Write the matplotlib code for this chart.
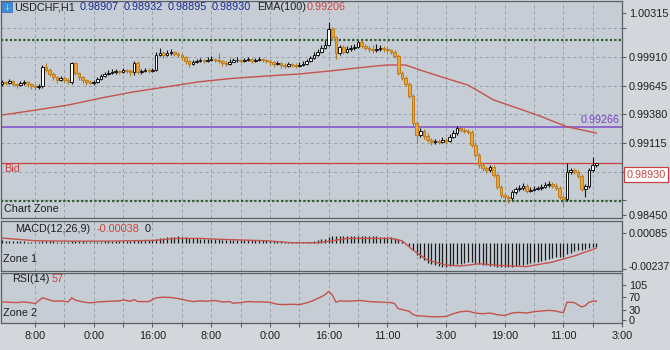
import numpy as np
import matplotlib.pyplot as plt
from matplotlib.patches import Rectangle

# ---- price data (H1 bars, USDCHF) ----
first_open = 0.99659
closes = [0.99678, 0.99669, 0.99687, 0.99659, 0.99650, 0.99669, 0.99678, 0.99659, 0.99641, 0.99632,
          0.99641, 0.99816, 0.99788, 0.99752, 0.99724, 0.99696, 0.99715, 0.99696, 0.99678, 0.99853,
          0.99761, 0.99724, 0.99696, 0.99678, 0.99669, 0.99678, 0.99705, 0.99733, 0.99752, 0.99761,
          0.99770, 0.99779, 0.99770, 0.99788, 0.99779, 0.99770, 0.99853, 0.99770, 0.99779, 0.99788,
          0.99779, 0.99788, 0.99927, 0.99945, 0.99927, 0.99945, 0.99955, 0.99936, 0.99927, 0.99908,
          0.99872, 0.99844, 0.99862, 0.99872, 0.99881, 0.99872, 0.99881, 0.99890, 0.99881, 0.99872,
          0.99853, 0.99844, 0.99862, 0.99881, 0.99881, 0.99872, 0.99881, 0.99890, 0.99872, 0.99881,
          0.99890, 0.99881, 0.99872, 0.99862, 0.99844, 0.99853, 0.99835, 0.99825, 0.99844, 0.99835,
          0.99825, 0.99835, 0.99844, 0.99872, 0.99899, 0.99927, 0.99955, 0.99992, 1.00019, 1.00167,
          1.00093, 0.99945, 1.00001, 0.99955, 0.99982, 0.99992, 1.00001, 1.00047, 1.00010, 0.99992,
          0.99982, 0.99973, 0.99982, 0.99992, 0.99982, 0.99973, 0.99955, 0.99918, 0.99761, 0.99715,
          0.99659, 0.99549, 0.99299, 0.99189, 0.99225, 0.99179, 0.99142, 0.99124, 0.99133, 0.99124,
          0.99142, 0.99133, 0.99170, 0.99207, 0.99253, 0.99235, 0.99225, 0.99216, 0.99096, 0.99004,
          0.98912, 0.98884, 0.98865, 0.98893, 0.98819, 0.98709, 0.98635, 0.98616, 0.98607, 0.98662,
          0.98690, 0.98699, 0.98718, 0.98672, 0.98681, 0.98690, 0.98699, 0.98709, 0.98727, 0.98736,
          0.98718, 0.98699, 0.98616, 0.98598, 0.98847, 0.98865, 0.98847, 0.98810, 0.98690, 0.98718,
          0.98865, 0.98907, 0.98930]
highs = [0.99696, 0.99687, 0.99705, 0.99696, 0.99669, 0.99687, 0.99696, 0.99687, 0.99669, 0.99659,
         0.99659, 0.99835, 0.99853, 0.99807, 0.99770, 0.99733, 0.99733, 0.99724, 0.99715, 0.99862,
         0.99862, 0.99770, 0.99733, 0.99705, 0.99696, 0.99696, 0.99724, 0.99752, 0.99770, 0.99788,
         0.99798, 0.99798, 0.99788, 0.99807, 0.99798, 0.99798, 0.99872, 0.99872, 0.99798, 0.99807,
         0.99807, 0.99807, 0.99955, 0.99992, 0.99964, 0.99973, 0.99982, 0.99964, 0.99955, 0.99936,
         0.99918, 0.99881, 0.99881, 0.99890, 0.99899, 0.99890, 0.99908, 0.99918, 0.99899, 0.99945,
         0.99881, 0.99872, 0.99890, 0.99899, 0.99908, 0.99890, 0.99899, 0.99908, 0.99899, 0.99899,
         0.99908, 0.99899, 0.99890, 0.99881, 0.99872, 0.99872, 0.99862, 0.99853, 0.99862, 0.99853,
         0.99853, 0.99862, 0.99872, 0.99890, 0.99918, 0.99955, 0.99982, 1.00019, 1.00065, 1.00232,
         1.00185, 1.00102, 1.00019, 1.00019, 1.00010, 1.00019, 1.00028, 1.00065, 1.00065, 1.00028,
         1.00010, 1.00019, 1.00028, 1.00019, 1.00010, 1.00001, 0.99982, 0.99973, 0.99936, 0.99779,
         0.99733, 0.99678, 0.99567, 0.99318, 0.99253, 0.99244, 0.99207, 0.99161, 0.99152, 0.99152,
         0.99170, 0.99161, 0.99198, 0.99235, 0.99272, 0.99262, 0.99253, 0.99244, 0.99235, 0.99115,
         0.99022, 0.98930, 0.98902, 0.98912, 0.98912, 0.98838, 0.98727, 0.98653, 0.98635, 0.98681,
         0.98709, 0.98727, 0.98746, 0.98736, 0.98709, 0.98718, 0.98718, 0.98736, 0.98755, 0.98764,
         0.98755, 0.98746, 0.98718, 0.98635, 0.98930, 0.98884, 0.98884, 0.98865, 0.98829, 0.98736,
         0.98884, 0.98985, 0.98932]
lows = [0.99641, 0.99650, 0.99659, 0.99641, 0.99622, 0.99641, 0.99650, 0.99632, 0.99613, 0.99604,
        0.99613, 0.99622, 0.99770, 0.99733, 0.99696, 0.99669, 0.99687, 0.99678, 0.99659, 0.99659,
        0.99742, 0.99696, 0.99669, 0.99650, 0.99659, 0.99650, 0.99669, 0.99696, 0.99724, 0.99742,
        0.99752, 0.99752, 0.99752, 0.99761, 0.99761, 0.99733, 0.99742, 0.99752, 0.99752, 0.99770,
        0.99761, 0.99770, 0.99779, 0.99918, 0.99899, 0.99918, 0.99927, 0.99918, 0.99908, 0.99881,
        0.99844, 0.99816, 0.99835, 0.99853, 0.99862, 0.99853, 0.99862, 0.99872, 0.99862, 0.99853,
        0.99825, 0.99825, 0.99835, 0.99862, 0.99862, 0.99853, 0.99862, 0.99872, 0.99853, 0.99862,
        0.99872, 0.99862, 0.99853, 0.99835, 0.99816, 0.99835, 0.99807, 0.99807, 0.99816, 0.99816,
        0.99807, 0.99816, 0.99825, 0.99835, 0.99862, 0.99890, 0.99918, 0.99945, 0.99982, 1.00010,
        1.00065, 0.99890, 0.99927, 0.99936, 0.99945, 0.99964, 0.99973, 0.99992, 0.99992, 0.99973,
        0.99955, 0.99945, 0.99955, 0.99964, 0.99955, 0.99945, 0.99936, 0.99899, 0.99742, 0.99696,
        0.99641, 0.99530, 0.99272, 0.99115, 0.99170, 0.99152, 0.99124, 0.99096, 0.99105, 0.99105,
        0.99115, 0.99105, 0.99124, 0.99161, 0.99189, 0.99216, 0.99207, 0.99198, 0.99078, 0.98985,
        0.98884, 0.98856, 0.98838, 0.98847, 0.98801, 0.98690, 0.98607, 0.98570, 0.98561, 0.98589,
        0.98644, 0.98672, 0.98681, 0.98653, 0.98662, 0.98672, 0.98681, 0.98681, 0.98699, 0.98709,
        0.98699, 0.98681, 0.98598, 0.98524, 0.98579, 0.98829, 0.98829, 0.98792, 0.98672, 0.98616,
        0.98699, 0.98847, 0.98895]

# EMA(100) read at selected bars
ema_bars = [0, 8, 18, 27, 36, 45, 54, 63, 72, 81, 90, 100, 105, 110, 114, 121, 127, 134, 142, 147, 154, 162]
ema_vals = [0.99373, 0.99413, 0.99465, 0.99530, 0.99588, 0.99634, 0.99681, 0.99712, 0.99733, 0.99752,
            0.99782, 0.99819, 0.99835, 0.99835, 0.99788, 0.99712, 0.99650, 0.99512, 0.99419, 0.99358,
            0.99265, 0.99206]

# MACD main (histogram), one value per bar
macd_hist = [0.00020, 0.00018, 0.00018, 0.00015, 0.00012, 0.00010, 0.00010, 0.00008, 0.00005, 0.00003,
             0.00002, 0.00010, 0.00012, 0.00012, 0.00010, 0.00008, 0.00008, 0.00006, 0.00005, 0.00012,
             0.00013, 0.00012, 0.00010, 0.00008, 0.00006, 0.00006, 0.00007, 0.00009, 0.00011, 0.00012,
             0.00014, 0.00015, 0.00015, 0.00017, 0.00017, 0.00017, 0.00021, 0.00020, 0.00020, 0.00020,
             0.00020, 0.00020, 0.00030, 0.00038, 0.00042, 0.00047, 0.00051, 0.00053, 0.00054, 0.00052,
             0.00048, 0.00042, 0.00039, 0.00037, 0.00036, 0.00034, 0.00033, 0.00032, 0.00031, 0.00029,
             0.00026, 0.00023, 0.00022, 0.00022, 0.00022, 0.00021, 0.00021, 0.00021, 0.00020, 0.00020,
             0.00020, 0.00020, 0.00019, 0.00018, 0.00015, 0.00014, 0.00011, 0.00008, 0.00008, 0.00006,
             0.00004, 0.00003, 0.00003, 0.00005, 0.00009, 0.00015, 0.00021, 0.00028, 0.00035, 0.00052,
             0.00057, 0.00055, 0.00056, 0.00055, 0.00055, 0.00055, 0.00055, 0.00058, 0.00058, 0.00057,
             0.00056, 0.00055, 0.00054, 0.00052, 0.00051, 0.00050, 0.00048, 0.00044, 0.00030, 0.00015,
             -0.00005, -0.00030, -0.00070, -0.00110, -0.00135, -0.00160, -0.00180, -0.00195, -0.00205, -0.00212,
             -0.00215, -0.00215, -0.00212, -0.00205, -0.00195, -0.00188, -0.00182, -0.00177, -0.00178, -0.00185,
             -0.00193, -0.00200, -0.00205, -0.00207, -0.00210, -0.00215, -0.00220, -0.00222, -0.00222, -0.00218,
             -0.00212, -0.00205, -0.00198, -0.00192, -0.00185, -0.00178, -0.00170, -0.00163, -0.00155, -0.00147,
             -0.00140, -0.00133, -0.00130, -0.00128, -0.00105, -0.00090, -0.00078, -0.00070, -0.00068, -0.00062,
             -0.00052, -0.00043, -0.00038]
# MACD signal line read at selected bars
sig_bars = [0, 9, 20, 30, 42, 47, 54, 60, 72, 79, 86, 90, 94, 106, 109, 112, 116, 121, 125, 130,
            136, 143, 150, 156, 162]
sig_vals = [0.00040, 0.00016, 0.00012, 0.00013, 0.00020, 0.00037, 0.00037, 0.00028, 0.00016, -0.00002,
            -0.00002, 0.00016, 0.00037, 0.00037, 0.00016, -0.00067, -0.00157, -0.00201, -0.00210, -0.00190,
            -0.00205, -0.00215, -0.00175, -0.00120, -0.00050]
macd_scale = [0.00085, -0.00237]

# RSI(14) read at selected bars
rsi_bars = [0, 2, 4, 6, 8, 9, 11, 12, 14, 16, 18, 19, 20, 22, 24, 26, 28, 30, 32, 33, 35, 36, 37, 40,
            42, 44, 46, 48, 50, 52, 54, 56, 58, 60, 62, 63, 65, 67, 69, 71, 73, 75, 77, 79, 81, 83,
            85, 87, 88, 89, 90, 91, 92, 94, 96, 98, 100, 102, 104, 106, 107, 108, 110, 111, 112, 113,
            115, 117, 119, 121, 123, 125, 127, 129, 131, 133, 135, 137, 139, 141, 143, 145, 147, 149,
            151, 152, 153, 154, 156, 158, 159, 160, 161, 162]
rsi_vals = [55, 54, 53, 55, 52, 50, 67, 64, 57, 58, 55, 67, 60, 55, 52, 55, 56, 57, 58, 61, 57, 62, 56, 56,
            67, 69, 68, 65, 60, 56, 58, 57, 59, 55, 56, 51, 53, 56, 55, 55, 54, 48, 47, 48, 47, 52,
            60, 70, 76, 86, 76, 54, 58, 57, 58, 59, 56, 55, 54, 53, 50, 35, 30, 27, 18, 14,
            13, 11, 11, 12, 20, 26, 28, 22, 20, 22, 17, 15, 22, 24, 22, 26, 28, 30,
            28, 25, 23, 54, 53, 40, 44, 54, 57, 57]
rsi_scale = [105, 70, 30, 0]

time_labels = ['8:00', '0:00', '16:00', '8:00', '0:00', '16:00', '11:00', '3:00', '19:00', '11:00', '3:00']
first_tick = 9
bars_per_label = 16

price_ticks = [1.00315, 1.00175, 0.99910, 0.99645, 0.99380, 0.99115, 0.98850, 0.98585, 0.98450]
price_tick_labels = ['1.00315', '', '0.99910', '0.99645', '0.99380', '0.99115', '', '', '0.98450']
zone_top = 1.00065
zone_bottom = 0.98575
level_purple = 0.99266
bid = 0.98930
ema_last = 0.99206
macd_last = -0.00038
rsi_last = 57

# ---- style ----
W, H = 670, 350
FIG_BG = '#d3d7dc'
PANE_BG = '#c6cdd5'
GRID = '#97a0aa'
BORDER = '#5a5f66'
TXT = '#1e1e1e'
RED = '#c8433f'
LINE_RED = '#c4524d'

plt.rcParams['font.family'] = ['Liberation Sans', 'DejaVu Sans']

fig = plt.figure(figsize=(W / 100, H / 100), dpi=100, facecolor=FIG_BG)


def pane(top_px, bottom_px):
    left, right = 1, 622
    return fig.add_axes([left / W, 1 - bottom_px / H, (right - left) / W, (bottom_px - top_px) / H])


ax = pane(1, 218)
ax_m = pane(220.5, 270.5)
ax_r = pane(273, 323)

n = len(closes)
x = np.arange(n)
xlim = (-0.3, 169)
label_x = first_tick + bars_per_label * np.arange(len(time_labels))
minor_x = np.arange(first_tick, xlim[1] + 0.1, bars_per_label / 2)

for a in (ax, ax_m, ax_r):
    a.set_facecolor(PANE_BG)
    a.set_xlim(*xlim)
    for s in a.spines.values():
        s.set_color(BORDER)
        s.set_linewidth(0.9)
    a.yaxis.tick_right()
    a.tick_params(axis='y', direction='out', length=3, width=0.8, colors=BORDER,
                  labelcolor=TXT, labelsize=7.8, pad=2)
    a.tick_params(axis='x', bottom=False, labelbottom=False)
    for gx in minor_x:
        a.axvline(gx, color=GRID, lw=0.7, ls=(0, (3, 3)), zorder=0.5)

# ---- main pane ----
c = np.array(closes)
o = np.array([first_open] + closes[:-1])
hi = np.array(highs)
lo = np.array(lows)
up = c >= o
body_lo = np.minimum(o, c)
body_h = np.maximum(np.abs(c - o), 0.000015)

ax.set_ylim(0.98422, 1.00426)
ax.set_yticks(price_ticks)
ax.set_yticklabels(price_tick_labels)
for gy in price_ticks[1:-1]:
    ax.axhline(gy, color=GRID, lw=0.7, ls=(0, (3, 3)), zorder=0.5)

ax.axhline(zone_top, color='#2f5a2f', lw=1.6, ls=(0, (1, 1)), zorder=1)
ax.axhline(zone_bottom, color='#2f5a2f', lw=1.6, ls=(0, (1, 1)), zorder=1)
ax.axhline(level_purple, color='#8b5fc9', lw=1.3, zorder=1)
ax.axhline(bid, color=RED, lw=0.9, zorder=1)
ax.plot(ema_bars, ema_vals, color=LINE_RED, lw=1.0, zorder=2)

ax.vlines(x[up], lo[up], hi[up], color='#141414', lw=0.8, zorder=3)
ax.vlines(x[~up], lo[~up], hi[~up], color='#b07a1c', lw=0.8, zorder=3)
ax.bar(x[up], body_h[up], bottom=body_lo[up], width=0.72, color='white',
       edgecolor='#141414', lw=0.7, zorder=4)
ax.bar(x[~up], body_h[~up], bottom=body_lo[~up], width=0.72, color='#eea33a',
       edgecolor='#c07e1c', lw=0.7, zorder=4)

ax.text(168.3, level_purple + 0.00012, '0.99266', color='#7b3fc4', fontsize=7.8,
        ha='right', va='bottom')
ax.text(0.6, bid - 0.00010, 'Bid', color=RED, fontsize=7.8, ha='left', va='top')
ax.text(0.6, 0.98505, 'Chart Zone', color=TXT, fontsize=7.8, ha='left', va='center')
ax.annotate('0.98930', xy=(1.0, bid), xycoords=('axes fraction', 'data'),
            xytext=(3.5, -8.5), textcoords='offset points', fontsize=7.8, color=RED,
            ha='left', va='center', annotation_clip=False,
            bbox=dict(boxstyle='square,pad=0.22', fc='white', ec=RED, lw=0.9))

# header line
fig.patches.append(Rectangle((2 / W, 1 - 12 / H), 10 / W, 10 / H, transform=fig.transFigure,
                             facecolor='#3c8fdc', edgecolor='#2a6fb0', lw=0.5, zorder=10))
fig.text(7 / W, 1 - 7 / H, '\u2193', color='white', fontsize=7, ha='center', va='center',
         fontweight='bold', zorder=11)
header = [(14, 'USDCHF,H1', TXT), (80, '0.98907', '#1c2a90'), (124, '0.98932', '#1c2a90'),
          (168, '0.98895', '#1c2a90'), (212, '0.98930', '#1c2a90'), (257, 'EMA(100)', TXT),
          (307, f'{ema_last:.5f}', RED)]
for px, s, col in header:
    fig.text(px / W, 1 - 7.5 / H, s, color=col, fontsize=7.8, ha='left', va='center', zorder=11)

# ---- MACD pane ----
ax_m.set_ylim(-0.00250, 0.00197)
ax_m.set_yticks(macd_scale)
ax_m.set_yticklabels([f'{macd_scale[0]:.5f}', ''])
# lower scale label sits just inside the pane so it is not clipped by the RSI pane
ax_m.annotate(f'{macd_scale[1]:.5f}', xy=(1.0, macd_scale[1]), xycoords=('axes fraction', 'data'),
              xytext=(4.5, 1.5), textcoords='offset points', fontsize=7.6, color=TXT,
              ha='left', va='center', annotation_clip=False)
ax_m.vlines(x, 0, macd_hist, color='#1a1a1a', lw=0.9, zorder=3)
ax_m.plot(sig_bars, sig_vals, color=LINE_RED, lw=1.0, zorder=4)
fig.text(15 / W, 1 - 229.5 / H, 'MACD(12,26,9)', color=TXT, fontsize=7.8, ha='left', va='center', zorder=11)
fig.text(97 / W, 1 - 229.5 / H, f'{macd_last:.5f}', color=RED, fontsize=7.8, ha='left', va='center', zorder=11)
fig.text(145 / W, 1 - 229.5 / H, '0', color=TXT, fontsize=7.8, ha='left', va='center', zorder=11)
fig.text(3 / W, 1 - 259.5 / H, 'Zone 1', color=TXT, fontsize=7.8, ha='left', va='center', zorder=11)

# ---- RSI pane ----
ax_r.set_ylim(-7.4, 140.5)
ax_r.set_yticks(rsi_scale)
ax_r.plot(rsi_bars, rsi_vals, color=LINE_RED, lw=1.0, zorder=3)
ax_r.set_xticks(label_x)
ax_r.set_xticklabels(time_labels)
ax_r.set_xticks(minor_x, minor=True)
ax_r.tick_params(axis='x', which='both', bottom=True, labelbottom=True, direction='out',
                 length=3, width=0.8, colors=BORDER, labelcolor=TXT, labelsize=7.8, pad=3)
fig.text(12 / W, 1 - 279.5 / H, 'RSI(14)', color=TXT, fontsize=7.8, ha='left', va='center', zorder=11)
fig.text(52 / W, 1 - 279.5 / H, str(rsi_last), color=RED, fontsize=7.8, ha='left', va='center', zorder=11)
fig.text(3 / W, 1 - 313 / H, 'Zone 2', color=TXT, fontsize=7.8, ha='left', va='center', zorder=11)

fig.savefig('out.png', dpi=100, facecolor=FIG_BG)
